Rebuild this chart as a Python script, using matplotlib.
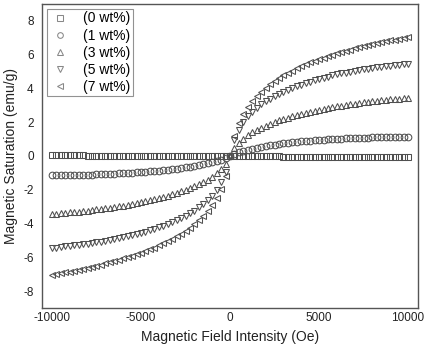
import matplotlib
matplotlib.use("Agg")
import matplotlib.pyplot as plt

plt.rcParams['font.family'] = ['Liberation Sans', 'DejaVu Sans']
plt.rcParams['axes.unicode_minus'] = False

field = [-10000, -9750, -9500, -9250, -9000, -8750, -8500, -8250, -8000, -7750,
         -7500, -7250, -7000, -6750, -6500, -6250, -6000, -5750, -5500, -5250,
         -5000, -4750, -4500, -4250, -4000, -3750, -3500, -3250, -3000, -2750,
         -2500, -2250, -2000, -1750, -1500, -1250, -1000, -750, -500, -250,
         0, 250, 500, 750, 1000, 1250, 1500, 1750, 2000, 2250,
         2500, 2750, 3000, 3250, 3500, 3750, 4000, 4250, 4500, 4750,
         5000, 5250, 5500, 5750, 6000, 6250, 6500, 6750, 7000, 7250,
         7500, 7750, 8000, 8250, 8500, 8750, 9000, 9250, 9500, 9750, 10000]

m0 = [0.04, 0.04, 0.04, 0.03, 0.03, 0.03, 0.03, 0.03, 0.02, 0.02,
      0.02, 0.02, 0.02, 0.02, 0.01, 0.01, 0.01, 0.01, 0.01, 0.01,
      0.0, 0.0, 0.0, 0.0, 0.0, -0.01, -0.01, -0.01, -0.01, -0.01,
      -0.01, -0.01, -0.02, -0.02, -0.02, -0.02, -0.02, -0.02, -0.02, -0.02,
      -0.02, -0.02, -0.02, -0.03, -0.03, -0.03, -0.03, -0.03, -0.03, -0.03,
      -0.03, -0.03, -0.04, -0.04, -0.04, -0.04, -0.04, -0.04, -0.05, -0.05,
      -0.05, -0.05, -0.05, -0.05, -0.06, -0.06, -0.06, -0.06, -0.06, -0.06,
      -0.07, -0.07, -0.07, -0.07, -0.07, -0.07, -0.08, -0.08, -0.08, -0.08, -0.08]

m1 = [-1.15, -1.15, -1.14, -1.14, -1.13, -1.13, -1.12, -1.11, -1.11, -1.10,
      -1.09, -1.08, -1.07, -1.06, -1.05, -1.04, -1.03, -1.01, -1.00, -0.98,
      -0.96, -0.94, -0.92, -0.90, -0.88, -0.85, -0.82, -0.79, -0.76, -0.72,
      -0.68, -0.64, -0.60, -0.55, -0.50, -0.44, -0.38, -0.31, -0.23, -0.13,
      0.0, 0.12, 0.22, 0.30, 0.37, 0.43, 0.49, 0.54, 0.59, 0.63,
      0.67, 0.71, 0.75, 0.78, 0.81, 0.84, 0.87, 0.89, 0.91, 0.93,
      0.95, 0.97, 0.99, 1.00, 1.02, 1.03, 1.04, 1.05, 1.06, 1.07,
      1.08, 1.09, 1.10, 1.10, 1.11, 1.12, 1.12, 1.13, 1.13, 1.14, 1.14]

m3 = [-3.43, -3.41, -3.39, -3.37, -3.34, -3.32, -3.29, -3.26, -3.23, -3.20,
      -3.17, -3.14, -3.10, -3.06, -3.02, -2.98, -2.94, -2.89, -2.84, -2.79,
      -2.74, -2.68, -2.62, -2.56, -2.49, -2.42, -2.35, -2.27, -2.19, -2.10,
      -2.01, -1.91, -1.80, -1.68, -1.55, -1.40, -1.23, -1.03, -0.78, -0.45,
      0.0, 0.45, 0.78, 1.03, 1.23, 1.40, 1.55, 1.68, 1.80, 1.91,
      2.01, 2.10, 2.19, 2.27, 2.35, 2.42, 2.49, 2.56, 2.62, 2.68,
      2.74, 2.79, 2.84, 2.89, 2.94, 2.98, 3.02, 3.06, 3.10, 3.14,
      3.17, 3.20, 3.23, 3.26, 3.29, 3.32, 3.34, 3.37, 3.39, 3.41, 3.43]

m5 = [-5.45, -5.42, -5.39, -5.36, -5.33, -5.30, -5.27, -5.24, -5.20, -5.16,
      -5.12, -5.08, -5.03, -4.98, -4.93, -4.88, -4.82, -4.76, -4.70, -4.63,
      -4.56, -4.48, -4.40, -4.31, -4.22, -4.12, -4.02, -3.91, -3.80, -3.67,
      -3.54, -3.39, -3.23, -3.05, -2.85, -2.62, -2.35, -2.00, -1.55, -0.95,
      0.0, 0.95, 1.55, 2.00, 2.35, 2.62, 2.85, 3.05, 3.23, 3.39,
      3.54, 3.67, 3.80, 3.91, 4.02, 4.12, 4.22, 4.31, 4.40, 4.48,
      4.56, 4.63, 4.70, 4.76, 4.82, 4.88, 4.93, 4.98, 5.03, 5.08,
      5.12, 5.16, 5.20, 5.24, 5.27, 5.30, 5.33, 5.36, 5.39, 5.42, 5.45]

m7 = [-7.02, -6.98, -6.94, -6.89, -6.84, -6.79, -6.74, -6.68, -6.62, -6.56,
      -6.50, -6.43, -6.36, -6.29, -6.22, -6.15, -6.07, -5.99, -5.91, -5.82,
      -5.73, -5.63, -5.53, -5.42, -5.30, -5.18, -5.05, -4.91, -4.76, -4.60,
      -4.43, -4.24, -4.03, -3.80, -3.55, -3.25, -2.90, -2.50, -1.95, -1.20,
      0.0, 1.20, 1.95, 2.50, 2.90, 3.25, 3.55, 3.80, 4.03, 4.24,
      4.43, 4.60, 4.76, 4.91, 5.05, 5.18, 5.30, 5.42, 5.53, 5.63,
      5.73, 5.82, 5.91, 5.99, 6.07, 6.15, 6.22, 6.29, 6.36, 6.43,
      6.50, 6.56, 6.62, 6.68, 6.74, 6.79, 6.84, 6.89, 6.94, 6.98, 7.02]

labels = ['(0 wt%)', '(1 wt%)', '(3 wt%)', '(5 wt%)', '(7 wt%)']
series = [m0, m1, m3, m5, m7]
markers = ['s', 'o', '^', 'v', '<']

xticks = [-10000, -5000, 0, 5000, 10000]
yticks = [-8, -6, -4, -2, 0, 2, 4, 6, 8]

fig = plt.figure(figsize=(4.24, 3.5), dpi=100)
ax = fig.add_axes([0.099, 0.12, 0.887, 0.869])

for vals, mk, lab in zip(series, markers, labels):
    ax.plot(field, vals, linestyle='none', marker=mk, markersize=4.8,
            markerfacecolor='none', markeredgecolor='#505050',
            markeredgewidth=0.75, label=lab)

ax.set_xlim(-10560, 10560)
ax.set_ylim(-9, 9)
ax.set_xticks(xticks)
ax.set_yticks(yticks)
ax.tick_params(axis='both', length=0, labelsize=8.5, colors='#222222')
ax.tick_params(axis='y', pad=6)
ax.tick_params(axis='x', pad=3)
for sp in ax.spines.values():
    sp.set_color('#555555')
    sp.set_linewidth(1.0)

ax.set_xlabel('Magnetic Field Intensity (Oe)', fontsize=10, color='#222222', labelpad=4)
ax.set_ylabel('Magnetic Saturation (emu/g)', fontsize=10, color='#222222', labelpad=4)

leg = ax.legend(loc='upper left', fontsize=10, frameon=True, fancybox=False,
                edgecolor='#777777', borderpad=0.2, labelspacing=0.22,
                handletextpad=0.9, handlelength=1.5, borderaxespad=0.35,
                markerscale=0.85)
leg.get_frame().set_linewidth(0.8)
for h in leg.legend_handles:
    h.set_markeredgecolor('#888888')

fig.savefig('out.png', dpi=100)
